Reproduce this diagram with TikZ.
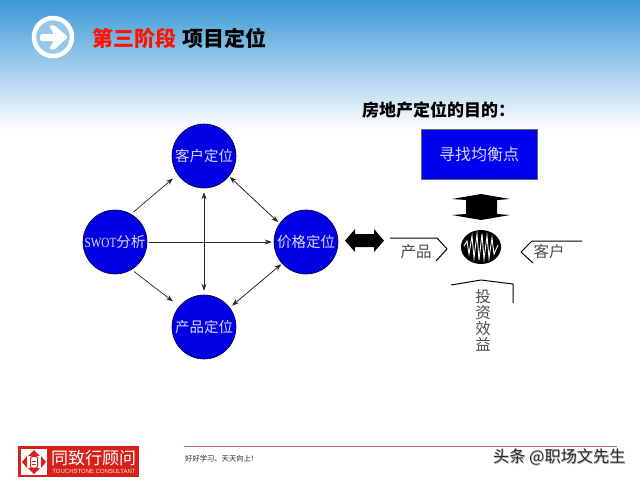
\documentclass[tikz,border=0pt]{standalone}
\usepackage{fontspec}
\setmainfont{Noto Sans CJK SC}
\newfontfamily\lat{Liberation Serif}
\newfontfamily\latsans{Liberation Sans}
\usetikzlibrary{arrows.meta}
\definecolor{topblue}{RGB}{58,152,214}
\definecolor{midblue}{RGB}{166,210,238}
\definecolor{discblue}{RGB}{0,0,226}
\definecolor{boxblue}{RGB}{0,0,240}
\definecolor{logored}{RGB}{214,32,26}
\definecolor{rulepink}{RGB}{196,96,116}
\definecolor{iconblue}{RGB}{150,200,235}
\newcommand{\fs}[1]{\fontsize{#1}{#1}\selectfont}
\tikzset{
  x=1pt,y=-1pt,
  disc/.style={circle,draw=black!80!blue,line width=.6pt,fill=discblue,minimum size=64pt,inner sep=0pt,text=white!85!blue,font=\fs{14.5}},
  link/.style={-{Stealth[length=7pt,width=5pt]},line width=.7pt,black!85},
  linkboth/.style={{Stealth[length=7pt,width=5pt]}-{Stealth[length=7pt,width=5pt]},line width=.8pt,black!85},
  bracket/.style={draw=black,line width=1pt},
  greytext/.style={text=black!70,font=\fs{15.5},inner sep=0pt},
}
\begin{document}
\begin{tikzpicture}
\useasboundingbox (0,0) rectangle (640,480);
\fill[white] (0,0) rectangle (640,480);
\shade[top color=topblue,middle color=midblue,bottom color=white] (0,0) rectangle (640,130);
% header icon
\node[circle,draw=white,line width=4.5pt,fill=iconblue,minimum size=38pt,inner sep=0pt] (icon) at (53,37) {};
\fill[white,rounded corners=1.5pt] (40,34) -- (54,34) -- (49,26) -- (54,25) -- (68,37) -- (54,50) -- (49,49) -- (54,41) -- (40,41) -- cycle;
\node[anchor=west,inner sep=0pt,text=red!85!orange,font=\fs{21}\bfseries] (t1) at (92,38) {第三阶段};
\node[anchor=west,inner sep=0pt,text=black,font=\fs{21}\bfseries] (t2) at (182,38) {项目定位};
% left diagram
\node[disc] (ke) at (204,156) {客户定位};
\node[disc] (sw) at (115,242) {{\lat\fs{14}\scalebox{.8}[1]{SWOT}}分析};
\node[disc] (jia) at (306,242) {价格定位};
\node[disc] (chan) at (204,327) {产品定位};
\draw[link,shorten <=3pt,shorten >=6pt] (sw.60) -- (ke.215);
\draw[link,shorten <=2pt,shorten >=2pt] (sw.east) -- (jia.west);
\draw[link,shorten <=3pt,shorten >=8pt] (sw.-59) -- (chan.140);
\draw[linkboth,shorten <=4pt,shorten >=4pt] (ke.south) -- (chan.north);
\draw[linkboth,shorten <=1pt,shorten >=2pt] (ke.-39) -- (jia.145);
\draw[linkboth,shorten <=1pt,shorten >=3pt] (jia.222) -- (chan.37);
% wide arrows
\fill[black] (345,240.7) -- (355,229) -- (355,234) -- (374,234) -- (374,229) -- (384,240.7) -- (374,252) -- (374,247) -- (355,247) -- (355,252) -- cycle;
\fill[black] (481,194) -- (510,199) -- (497,200) -- (497,214) -- (510,215) -- (481,220) -- (452,215) -- (466,214) -- (466,200) -- (452,199) -- cycle;
% right diagram
\node[anchor=west,inner sep=0pt,text=black,font=\fs{17}\bfseries] (goal) at (362,110) {房地产定位的目的：};
\node[draw=black!60,line width=.4pt,fill=boxblue,minimum width=116pt,minimum height=50pt,inner sep=0pt,text=white!85!blue,font=\fs{16}] (bal) at (479,154) {寻找均衡点};
\node[circle,fill=black,minimum size=34pt,inner sep=0pt,xscale=1.18] (core) at (481,247) {};
\draw[white,line width=.9pt,line join=miter] (464,246) -- (467,241) -- (469,254) -- (472,236) -- (474,258) -- (477,234) -- (479,260) -- (482,234) -- (484,259) -- (487,236) -- (489,258) -- (492,238) -- (494,254) -- (498,245);
\draw[bracket] (390,238) -- (437,238) -- (447,249) -- (436,261);
\node[greytext] (p1) at (416,252) {产品};
\draw[bracket] (582,241) -- (532,241) -- (521,252) -- (533,263);
\node[greytext] (p2) at (549,252) {客户};
\draw[bracket] (451,285) -- (481,280) -- (513,284) -- (513,303);
\node[greytext,align=center] (p3) at (483,320.5) {投\\[.3pt]资\\[.3pt]效\\[.3pt]益};
% footer
\draw[rulepink,line width=.8pt] (184,446.5) -- (617,446.5);
\node[anchor=west,inner sep=0pt,text=black!85,font=\fs{7.3}] (slogan) at (185,459) {好好学习、天天向上！};
\node[anchor=west,inner sep=0pt,text=black!30,font=\fs{16.2}] (markshadow) at (493.6,457.6) {头条 @职场文先生};
\node[anchor=west,inner sep=0pt,text=black!85,font=\fs{16.2}] (mark) at (493,457) {头条 @职场文先生};
% logo
\fill[logored] (18,446) rectangle (139,477);
\fill[white] (21,449) rectangle (47,475);
\fill[logored] (22,462) -- (27,456) -- (27,468) -- cycle;
\fill[logored] (46,462) -- (41,456) -- (41,468) -- cycle;
\fill[logored] (34,450) -- (28,456) -- (40,456) -- cycle;
\fill[logored] (34,474) -- (28,468) -- (40,468) -- cycle;
\draw[logored,line width=1pt,rounded corners=2pt] (30.5,456.5) rectangle (37.5,468);
\draw[logored,line width=.7pt] (32,461) -- (36,461) (32,464.5) -- (36,464.5);
\node[anchor=center,inner sep=0pt,text=white,font=\fs{17}] (lname) at (93.5,458) {同致行顾问};
\node[anchor=center,inner sep=0pt,text=white!90!red,font=\latsans\fs{6}] (lsub) at (94,471) {TOUCHSTONE CONSULTANT};
\end{tikzpicture}
\end{document}
